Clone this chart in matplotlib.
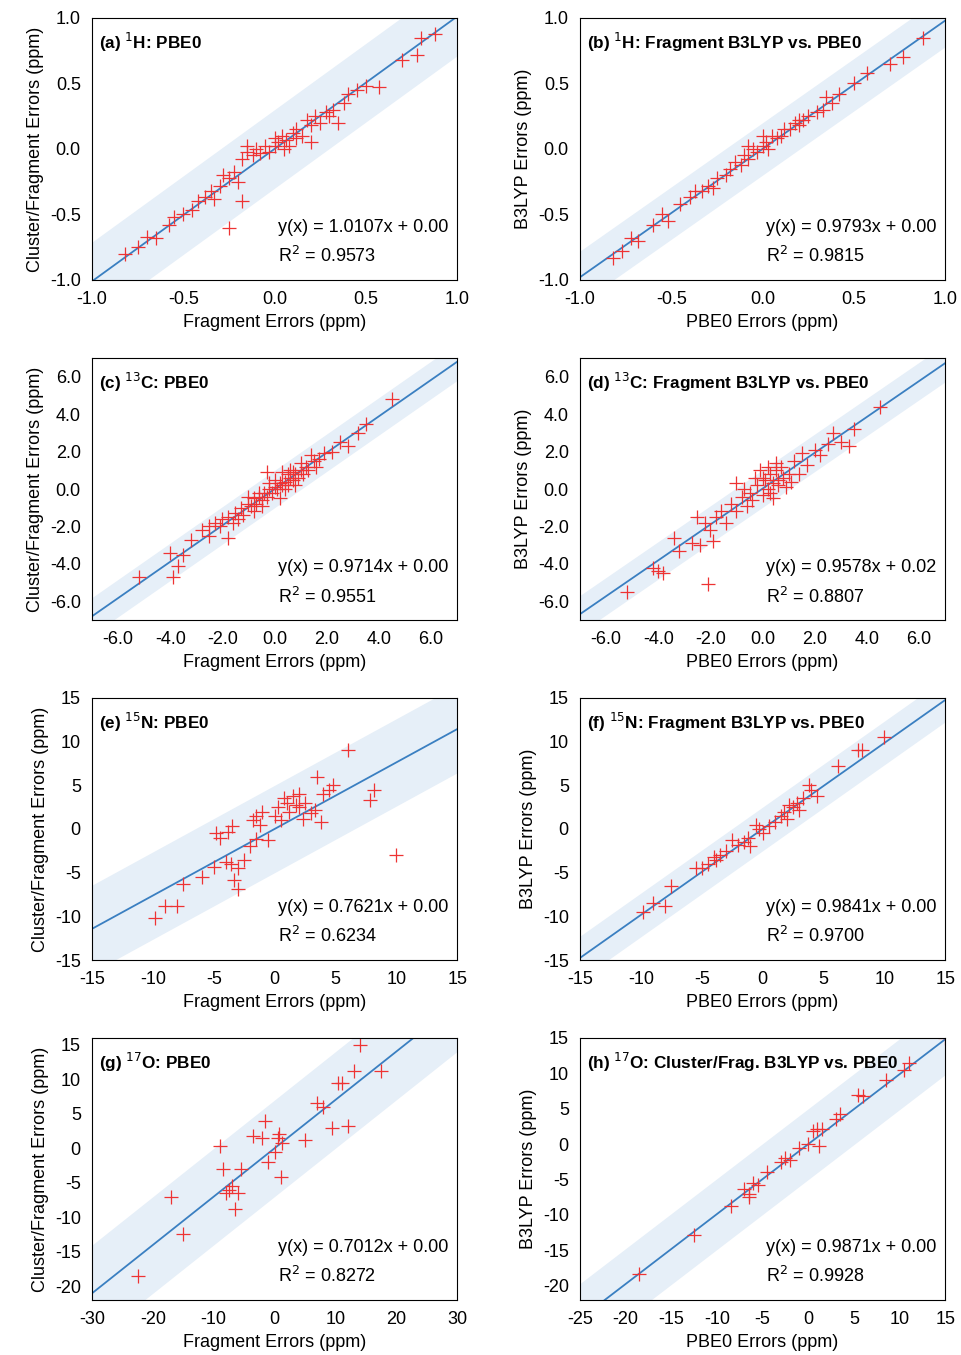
import matplotlib
matplotlib.use("Agg")
import matplotlib.pyplot as plt
import matplotlib.ticker as mticker
import numpy as np

plt.rcParams['font.family'] = ['Liberation Sans', 'DejaVu Sans']
plt.rcParams['font.size'] = 13

# ---- data ----
a_x = [-0.82,-0.75,-0.7,-0.65,-0.58,-0.55,-0.5,-0.45,-0.42,-0.38,-0.35,-0.33,-0.3,-0.28,-0.25,-0.22,-0.2,-0.18,-0.15,-0.12,-0.1,-0.08,-0.05,-0.03,0.0,0.02,0.04,0.06,0.08,0.1,0.12,0.15,0.18,0.2,0.22,0.25,0.28,0.3,0.32,0.35,0.38,0.4,0.45,0.5,0.57,0.7,0.78,0.8,0.88,-0.25,-0.18,0.0,0.05,-0.15,0.12,0.2]
a_y = [-0.8,-0.75,-0.67,-0.68,-0.58,-0.52,-0.5,-0.47,-0.4,-0.37,-0.32,-0.38,-0.28,-0.2,-0.22,-0.18,-0.25,-0.08,-0.02,-0.05,0.0,-0.03,0.02,-0.02,0.02,0.05,0.1,0.07,0.02,0.12,0.08,0.1,0.22,0.18,0.25,0.2,0.28,0.25,0.3,0.2,0.35,0.42,0.45,0.48,0.47,0.68,0.72,0.85,0.88,-0.6,-0.4,0.08,0.0,0.02,0.15,0.05]
b_x = [-0.82,-0.77,-0.72,-0.68,-0.55,-0.52,-0.45,-0.4,-0.37,-0.33,-0.3,-0.27,-0.25,-0.2,-0.18,-0.15,-0.12,-0.1,-0.08,-0.05,-0.03,0.0,0.02,0.03,0.05,0.08,0.1,0.12,0.15,0.18,0.2,0.22,0.25,0.3,0.33,0.35,0.38,0.42,0.5,0.57,0.7,0.77,0.88,-0.6,-0.08,0.0,0.2]
b_y = [-0.83,-0.78,-0.68,-0.7,-0.5,-0.55,-0.42,-0.37,-0.32,-0.32,-0.28,-0.3,-0.22,-0.2,-0.15,-0.1,-0.12,-0.05,-0.08,0.0,-0.02,0.02,0.05,0.0,0.1,0.08,0.1,0.15,0.15,0.2,0.18,0.22,0.25,0.28,0.3,0.4,0.35,0.42,0.5,0.58,0.65,0.7,0.85,-0.58,0.02,0.1,0.22]
c_x = [-5.2,-4.0,-3.9,-3.7,-3.5,-3.2,-2.8,-2.5,-2.3,-2.1,-2.0,-1.8,-1.6,-1.5,-1.3,-1.2,-1.0,-0.9,-0.8,-0.7,-0.6,-0.5,-0.4,-0.3,-0.2,-0.1,0.0,0.1,0.2,0.3,0.4,0.5,0.6,0.7,0.8,0.9,1.0,1.1,1.2,1.3,1.5,1.7,1.9,2.2,2.5,2.8,3.2,3.5,4.5,-0.3,0.2,0.5,0.8,1.0,-1.0,-0.5,0.0,0.3,-0.8,-1.8,-2.5,-0.2,0.6,1.4,0.4,0.7,1.6,-0.6,-1.4]
c_y = [-4.7,-3.4,-4.7,-4.1,-3.5,-2.7,-2.2,-2.5,-1.8,-2.0,-1.6,-1.5,-1.8,-1.3,-1.0,-1.4,-0.8,-0.9,-0.5,-0.8,-0.4,-0.6,-0.2,-0.4,0.0,-0.2,0.1,0.0,0.3,0.2,0.4,0.2,0.6,0.5,0.8,0.6,1.0,0.8,1.2,1.0,1.5,1.6,1.9,2.0,2.5,2.3,3.0,3.5,4.8,0.9,-0.5,0.8,0.2,1.4,-0.4,-0.9,0.5,0.9,-1.2,-2.6,-2.0,0.3,1.0,1.8,0.0,0.9,1.2,-0.2,-1.6]
d_x = [-5.2,-4.2,-4.0,-3.8,-3.4,-3.2,-2.7,-2.5,-2.2,-2.1,-2.0,-1.8,-1.6,-1.4,-1.2,-1.0,-0.8,-0.6,-0.5,-0.4,-0.2,0.0,0.1,0.2,0.3,0.4,0.5,0.6,0.7,0.8,1.0,1.2,1.4,1.5,1.7,2.0,2.2,2.5,2.7,3.0,3.3,3.5,4.5,-0.3,0.2,0.4,0.9,-1.0,-0.1,0.5,1.1,-2.4,-1.9,0.0,0.3,0.6,-0.7]
d_y = [-5.5,-4.2,-4.4,-4.5,-2.6,-3.3,-2.9,-1.5,-1.8,-5.1,-2.2,-1.5,-1.2,-1.8,-0.8,-1.2,-0.4,-0.9,-0.2,-0.6,0.2,-0.3,0.5,0.0,0.8,0.3,1.0,0.2,1.2,0.6,0.8,1.5,0.8,1.9,1.3,2.1,1.8,2.4,3.0,2.5,2.3,3.2,4.4,0.6,1.2,-0.5,0.1,0.3,1.0,1.4,0.4,-3.0,-2.8,0.6,-0.2,0.5,0.0]
e_x = [-9.8,-9.0,-8.0,-7.5,-6.0,-5.0,-4.8,-4.5,-4.0,-3.8,-3.6,-3.5,-3.3,-3.0,-2.5,-2.0,-1.8,-1.5,-1.2,-1.0,-0.5,0.0,0.3,0.5,1.0,1.2,1.5,1.8,2.0,2.3,2.5,3.0,3.3,3.5,3.8,4.0,4.5,4.8,6.0,7.8,8.2,10.0,-3.0,-1.5,0.8,2.0]
e_y = [-10.2,-8.8,-8.8,-6.3,-5.5,-4.3,-0.5,-1.0,-3.8,-0.3,-4.0,0.3,-5.8,-6.9,-3.5,-2.0,1.0,-1.2,0.5,2.0,-1.3,1.5,2.5,1.0,3.0,2.0,3.8,2.8,4.0,1.2,3.0,1.8,2.2,6.0,0.8,4.0,4.5,5.0,9.0,3.3,4.5,-3.0,-4.5,1.5,3.5,2.5]
f_x = [-9.8,-9.0,-8.0,-7.5,-5.5,-5.0,-4.5,-4.0,-3.8,-3.5,-3.0,-2.5,-2.0,-1.5,-1.2,-1.0,-0.5,0.0,0.5,1.0,1.5,1.8,2.0,2.5,2.8,3.0,3.3,3.8,4.0,4.5,6.2,7.8,8.2,10.0,-0.3,2.2]
f_y = [-9.5,-8.5,-8.8,-6.5,-4.5,-4.5,-4.0,-3.2,-3.6,-3.0,-2.5,-1.3,-1.8,-1.5,-1.0,-2.0,0.5,-0.5,0.3,0.8,1.5,2.0,1.2,2.5,3.0,2.2,3.5,5.0,4.5,3.8,7.2,9.0,9.0,10.5,0.0,2.8]
g_x = [-22.5,-17.0,-15.0,-9.0,-8.5,-8.0,-7.5,-7.0,-6.5,-6.0,-5.5,-3.5,-2.0,-1.5,-1.0,0.0,0.5,1.0,1.2,5.0,7.0,8.0,9.5,10.5,11.0,12.0,13.0,14.0,17.5,0.8]
g_y = [-18.5,-7.0,-12.5,0.3,-3.0,-6.5,-6.0,-5.5,-8.8,-6.5,-3.0,1.8,1.5,4.0,-2.0,-0.5,1.5,-4.2,0.8,1.2,6.5,6.0,3.0,9.5,9.5,3.3,11.2,15.0,11.2,2.0]
h_x = [-18.5,-12.5,-8.5,-7.0,-6.5,-6.0,-5.5,-4.5,-3.0,-2.5,-2.0,-1.0,0.0,0.5,1.0,1.2,1.5,3.0,3.5,5.5,6.0,8.5,10.5,11.0,15.0,-6.5]
h_y = [-18.3,-12.8,-8.8,-6.3,-7.5,-5.5,-5.8,-4.0,-2.5,-2.0,-2.2,-0.5,0.0,1.8,2.2,-0.3,2.2,3.5,4.2,7.0,6.8,9.0,10.5,11.5,15.0,-7.0]

panels = [
    dict(x=a_x, y=a_y, lab=r"(a) $^{1}$H: PBE0", m=1.0107, b=0.00, r2=0.9573, band=0.3,
         lim=(-1, 1), ylim=(-1, 1), ticks=[-1, -0.5, 0, 0.5, 1], yticks=[-1, -0.5, 0, 0.5, 1], fmt="%.1f"),
    dict(x=b_x, y=b_y, lab=r"(b) $^{1}$H: Fragment B3LYP vs. PBE0", m=0.9793, b=0.00, r2=0.9815, band=0.2,
         lim=(-1, 1), ylim=(-1, 1), ticks=[-1, -0.5, 0, 0.5, 1], yticks=[-1, -0.5, 0, 0.5, 1], fmt="%.1f"),
    dict(x=c_x, y=c_y, lab=r"(c) $^{13}$C: PBE0", m=0.9714, b=0.00, r2=0.9551, band=1.0,
         lim=(-7, 7), ylim=(-7, 7), ticks=[-6, -4, -2, 0, 2, 4, 6], yticks=[-6, -4, -2, 0, 2, 4, 6], fmt="%.1f"),
    dict(x=d_x, y=d_y, lab=r"(d) $^{13}$C: Fragment B3LYP vs. PBE0", m=0.9578, b=0.02, r2=0.8807, band=1.0,
         lim=(-7, 7), ylim=(-7, 7), ticks=[-6, -4, -2, 0, 2, 4, 6], yticks=[-6, -4, -2, 0, 2, 4, 6], fmt="%.1f"),
    dict(x=e_x, y=e_y, lab=r"(e) $^{15}$N: PBE0", m=0.7621, b=0.00, r2=0.6234, band=5.0,
         lim=(-15, 15), ylim=(-15, 15), ticks=[-15, -10, -5, 0, 5, 10, 15], yticks=[-15, -10, -5, 0, 5, 10, 15], fmt="%d"),
    dict(x=f_x, y=f_y, lab=r"(f) $^{15}$N: Fragment B3LYP vs. PBE0", m=0.9841, b=0.00, r2=0.9700, band=2.5,
         lim=(-15, 15), ylim=(-15, 15), ticks=[-15, -10, -5, 0, 5, 10, 15], yticks=[-15, -10, -5, 0, 5, 10, 15], fmt="%d"),
    dict(x=g_x, y=g_y, lab=r"(g) $^{17}$O: PBE0", m=0.7012, b=0.00, r2=0.8272, band=7.0,
         lim=(-30, 30), ylim=(-22, 16), ticks=[-30, -20, -10, 0, 10, 20, 30], yticks=[-20, -15, -10, -5, 0, 5, 10, 15], fmt="%d"),
    dict(x=h_x, y=h_y, lab=r"(h) $^{17}$O: Cluster/Frag. B3LYP vs. PBE0", m=0.9871, b=0.00, r2=0.9928, band=5.0,
         lim=(-25, 15), ylim=(-22, 15), ticks=[-25, -20, -15, -10, -5, 0, 5, 10, 15], yticks=[-20, -15, -10, -5, 0, 5, 10, 15], fmt="%d"),
]

fig = plt.figure(figsize=(9.61, 13.55), dpi=100)
lefts = [0.0957, 0.6035]
bottoms = [0.7934, 0.5424, 0.2915, 0.0406]

for i, p in enumerate(panels):
    ax = fig.add_axes([lefts[i % 2], bottoms[i // 2], 0.38, 0.1934])
    xs = np.linspace(p["lim"][0], p["lim"][1], 2)
    line = p["m"] * xs + p["b"]
    ax.fill_between(xs, line - p["band"], line + p["band"], color="#e6eff8", lw=0)
    ax.plot(xs, line, color="#3a7fc1", lw=1.3)
    ax.plot(p["x"], p["y"], "+", color="#ee3333", ms=10, mew=0.9)
    ax.set_xlim(p["lim"])
    ax.set_ylim(p["ylim"])
    ax.set_xticks(p["ticks"])
    ax.set_yticks(p["yticks"])
    ax.xaxis.set_major_formatter(mticker.FormatStrFormatter(p["fmt"]))
    ax.yaxis.set_major_formatter(mticker.FormatStrFormatter(p["fmt"]))
    ax.tick_params(direction="in", length=0, labelsize=13, pad=8)
    ax.text(0.02, 0.95, p["lab"], transform=ax.transAxes, fontsize=12.3,
            fontweight="bold", va="top", ha="left")
    ax.text(0.51, 0.2, f"y(x) = {p['m']:.4f}x + {p['b']:.2f}", transform=ax.transAxes,
            fontsize=13, va="center")
    ax.text(0.51, 0.09, r"R$^2$" + f" = {p['r2']:.4f}", transform=ax.transAxes,
            fontsize=13, va="center")
    if i % 2 == 0:
        ax.set_xlabel("Fragment Errors (ppm)", fontsize=13)
        ax.set_ylabel("Cluster/Fragment Errors (ppm)", fontsize=13)
    else:
        ax.set_xlabel("PBE0 Errors (ppm)", fontsize=13)
        ax.set_ylabel("B3LYP Errors (ppm)", fontsize=13)

fig.savefig("out.png", dpi=100)
